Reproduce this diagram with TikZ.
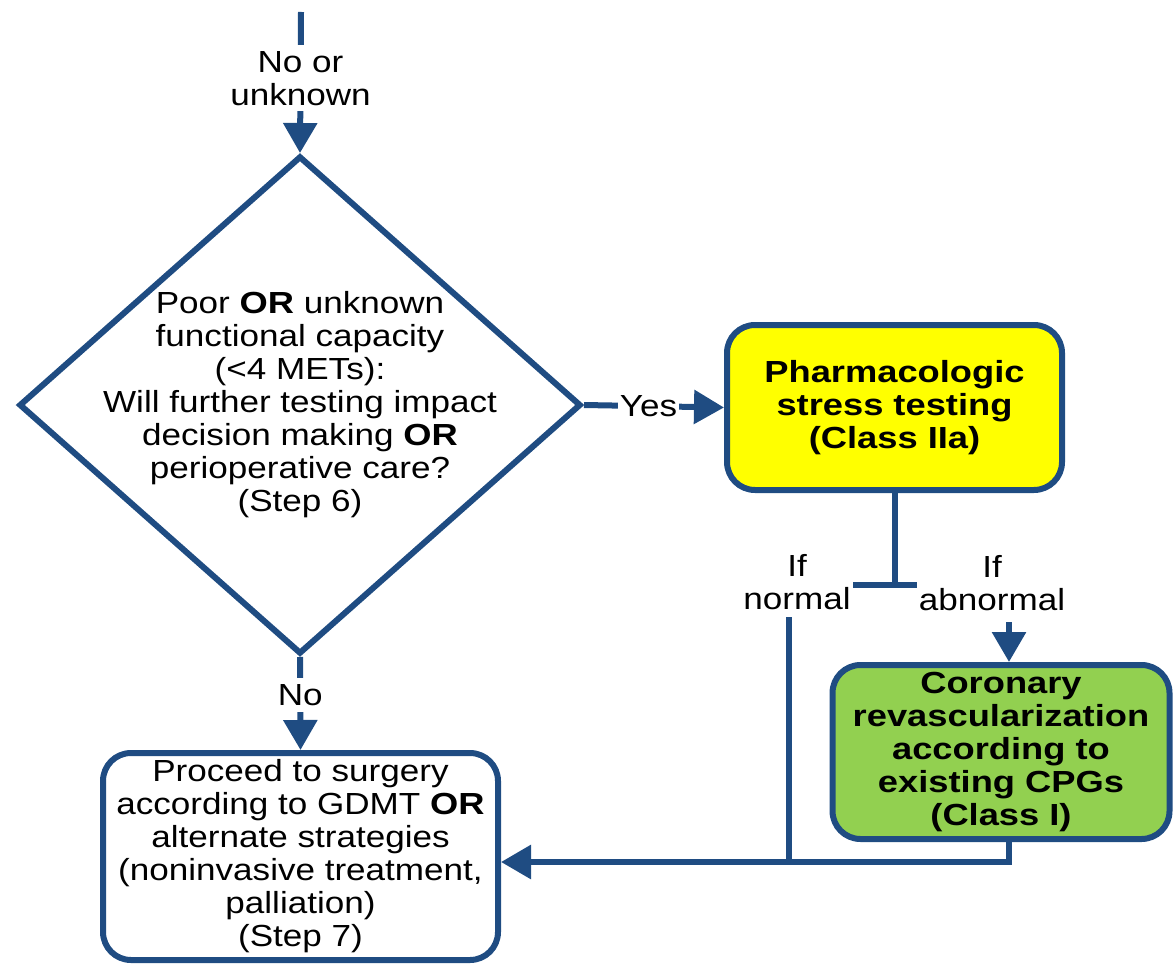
\documentclass[tikz,border=0pt]{standalone}
\usepackage{fontspec}
\setmainfont{Liberation Sans}[UprightFeatures={FakeStretch=1.15},BoldFeatures={FakeStretch=1.19}]
\usetikzlibrary{arrows.meta,shapes.geometric}
\definecolor{flowblue}{RGB}{31,76,130}
\definecolor{stressyellow}{RGB}{255,255,0}
\definecolor{revascgreen}{RGB}{146,208,80}
\begin{document}
\begin{tikzpicture}[x=1pt,y=-1pt,
  every node/.style={font=\fontsize{30.5}{33}\selectfont, align=center, text=black},
  flow/.style={draw=flowblue, line width=6pt},
  arr/.style={flow, -{Triangle[width=33pt,length=30pt]}},
  decision/.style={diamond, draw=flowblue, line width=6pt, minimum width=562pt,
    minimum height=498pt, inner sep=0pt, fill=white},
  card/.style={rectangle, rounded corners=28pt, draw=flowblue, line width=6pt, inner sep=0pt},
  boldcard/.style={card, font=\fontsize{30.5}{33}\selectfont\bfseries},
  lbl/.style={fill=white, inner xsep=2pt, inner ysep=6pt},
]
\useasboundingbox (0,0) rectangle (1174,965);

% decision diamond and its text
\node[decision] (q) at (300,405) {};
\node (qtext) at (q.center) {Poor \textbf{OR} unknown\\functional capacity\\(<4 METs):\\Will further testing impact\\decision making \textbf{OR}\\perioperative care?\\(Step 6)};

% boxes
\node[boldcard, fill=stressyellow, minimum width=335pt, minimum height=165pt] (pst) at (894.5,407.5)
  {Pharmacologic\\stress testing\\(Class IIa)};
\node[boldcard, fill=revascgreen, minimum width=337pt, minimum height=174pt] (grn) at (1001,752)
  {Coronary\\revascularization\\according to\\existing CPGs\\(Class I)};
\node[card, fill=white, minimum width=395pt, minimum height=207pt] (proc) at (300.5,856.5)
  {Proceed to surgery\\according to GDMT \textbf{OR}\\alternate strategies\\(noninvasive treatment,\\palliation)\\(Step 7)};

% entry and decision branches
\coordinate (top) at (301,12);
\draw[arr] (top) -- node[lbl, pos=0.47] (nou) {No or\\unknown} (q.north);
\draw[arr] (q.east) -- node[lbl, pos=0.46] (yes) {Yes} (pst.west);
\draw[arr] (q.south) -- node[lbl, pos=0.41] (no) {No} (proc.north);

% split below the stress test
\coordinate (tj) at (893,585);
\coordinate (tl) at (853,585);
\coordinate (tr) at (917,585);
\draw[flow] (pst.south) -- (pst.south |- tj);
\draw[flow] (tl) -- (tr);
\node (ifn) at (797,582) {If\\normal};
\node (ifa) at (992,583) {If\\abnormal};

% normal result goes back to surgery
\coordinate (nt) at (789,617);
\coordinate (nj) at (789,862);
\draw[flow] (nt) -- (nj);

% abnormal result goes to revascularization, then to surgery
\coordinate (at) at (1009,622);
\draw[arr] (at) -- (at |- grn.north);
\draw[arr] (at |- grn.south) -- (at |- nj) -- (proc.east |- nj);
\end{tikzpicture}
\end{document}
